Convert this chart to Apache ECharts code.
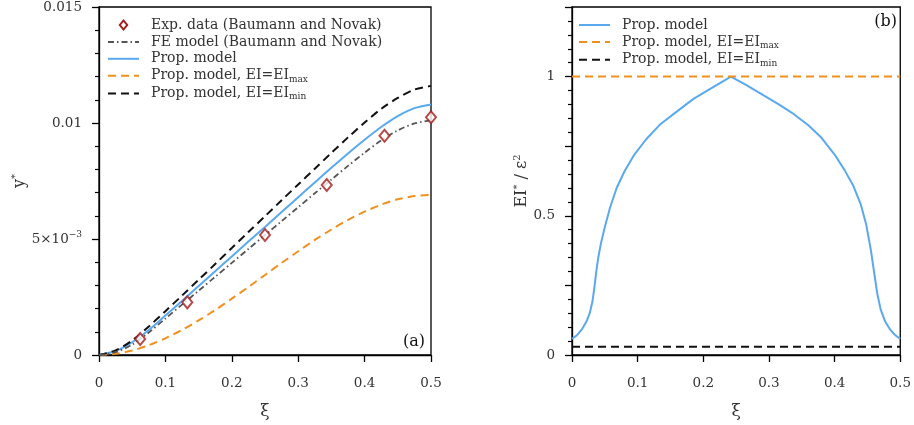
<!DOCTYPE html>
<html><head><meta charset="utf-8">
<script src="https://cdn.jsdelivr.net/npm/echarts@6/dist/echarts.min.js"></script>
<style>html,body{margin:0;padding:0;background:#fff}#c{width:914px;height:425px;background:#fff}</style>
</head><body><div id="c"></div>
<script>
// ---- Panel (a) data ----
const xiA = [0, 0.025, 0.05, 0.075, 0.1, 0.125, 0.15, 0.175, 0.2, 0.225, 0.25, 0.275, 0.3, 0.325, 0.35, 0.375, 0.4, 0.425, 0.45, 0.475, 0.5];
const feY = [0, 0.00012, 0.00045, 0.00097, 0.00157, 0.00217, 0.00277, 0.00337, 0.00397, 0.00457, 0.00517, 0.00577, 0.00637, 0.00697, 0.00756, 0.00815, 0.00872, 0.00925, 0.00968, 0.00998, 0.01012];
const propY = [0, 0.00017, 0.00055, 0.00108, 0.00170, 0.00233, 0.00297, 0.00361, 0.00425, 0.00489, 0.00552, 0.00616, 0.00680, 0.00744, 0.00807, 0.00869, 0.00928, 0.00983, 0.01030, 0.01064, 0.01080];
const propMaxY = [0, 0.00005, 0.00019, 0.00042, 0.00072, 0.00108, 0.00149, 0.00194, 0.00243, 0.00293, 0.00345, 0.00397, 0.00447, 0.00496, 0.00541, 0.00582, 0.00618, 0.00648, 0.00671, 0.00685, 0.00690];
const propMinY = [0, 0.00020, 0.00063, 0.00123, 0.00189, 0.00256, 0.00324, 0.00392, 0.00461, 0.00530, 0.00598, 0.00667, 0.00735, 0.00803, 0.00871, 0.00938, 0.01002, 0.01061, 0.01108, 0.01144, 0.01160];
const expXi = [0.062, 0.133, 0.25, 0.343, 0.43, 0.5];
const expY = [0.00069, 0.00227, 0.00517, 0.00733, 0.00945, 0.01025];
const yTicksA = [0, 0.005, 0.01, 0.015];
const yTickLabelsA = ['0', '5×10{sup|−3}', '0.01', '0.015'];

// ---- Panel (b) data ----
const xiB = [0, 0.008, 0.015, 0.022, 0.027, 0.031, 0.034, 0.037, 0.040, 0.044, 0.050, 0.058, 0.068, 0.080, 0.095, 0.113, 0.135, 0.160, 0.185, 0.215, 0.242,
             0.265, 0.290, 0.315, 0.335, 0.360, 0.380, 0.400, 0.415, 0.428, 0.440, 0.448, 0.455, 0.460, 0.465, 0.470, 0.477, 0.485, 0.492, 0.5];
const eiProp = [0.058, 0.072, 0.092, 0.120, 0.150, 0.190, 0.240, 0.300, 0.350, 0.400, 0.460, 0.530, 0.600, 0.660, 0.720, 0.775, 0.830, 0.875, 0.920, 0.962, 1.0,
                0.970, 0.935, 0.900, 0.870, 0.825, 0.780, 0.720, 0.665, 0.610, 0.540, 0.470, 0.380, 0.300, 0.220, 0.165, 0.120, 0.090, 0.072, 0.058];
const eiMaxLevel = [1.0, 1.0];
const eiMinLevel = [0.03, 0.03];
const xEnds = [0, 0.5];
const yTicksB = [0, 0.5, 1];

const FONT = 'DejaVu Serif';
const TXT = '#333';
const BLUE = '#5aa9ef', ORANGE = '#f0901e', BLACK = '#111', GRAY = '#555', RED = '#a51c1c';

const N_EXP = 'Exp. data (Baumann and Novak)';
const N_FE = 'FE model (Baumann and Novak)';
const N_P = 'Prop. model';
const N_MAX = 'Prop. model, EI=EImax';
const N_MIN = 'Prop. model, EI=EImin';

function legendFmt(name) {
  const m = name.match(/^(.*EI=EI)(max|min)$/);
  if (m) return '{g|}{t|' + m[1] + '}{s|' + m[2] + '}';
  return '{g|}{t|' + name + '}';
}
const legendRich = {
  g: { width: 7 },
  t: { fontFamily: FONT, fontSize: 14, color: TXT, lineHeight: 16 },
  s: { fontFamily: FONT, fontSize: 9, color: TXT, lineHeight: 16, verticalAlign: 'bottom', padding: [5, 0, 0, 0] }
};
function nearestLabel(v, ticks, labels) {
  for (let i = 0; i < ticks.length; i++) if (Math.abs(v - ticks[i]) < 1e-9) return labels[i];
  return String(v);
}
const pairs = (xs, ys) => xs.map((x, i) => [x, ys[i]]);
const hollowDiamond = 'path://M5,0L10,6L5,12L0,6Z M5,3L2.5,6L5,9L7.5,6Z';

function makeXAxis(gridIndex) {
  return {
    gridIndex: gridIndex, type: 'value', min: 0, max: 0.5, interval: 0.1,
    axisLine: { show: true, lineStyle: { color: '#000', width: 1.3 } },
    axisTick: { show: true, length: 7, lineStyle: { color: '#000', width: 1.3 } },
    axisLabel: { fontFamily: FONT, fontSize: 13.5, color: TXT, margin: 21 },
    splitLine: { show: false },
    name: 'ξ', nameLocation: 'middle', nameGap: 48,
    nameTextStyle: { fontFamily: FONT, fontSize: 17, color: TXT }
  };
}

const option = {
  animation: false,
  title: [
    { text: '(a)', right: 489, top: 334, textStyle: { fontFamily: FONT, fontSize: 16, fontWeight: 'normal', color: '#111' }, padding: 0 },
    { text: '(b)', right: 17, top: 14, textStyle: { fontFamily: FONT, fontSize: 16, fontWeight: 'normal', color: '#111' }, padding: 0 }
  ],
  grid: [
    { left: 99, right: 483, top: 7, bottom: 70, show: true, borderColor: '#000', borderWidth: 1.3 },
    { left: 572, right: 11, top: 7, bottom: 70, show: true, borderColor: '#000', borderWidth: 1.3 }
  ],
  xAxis: [makeXAxis(0), makeXAxis(1)],
  yAxis: [
    {
      gridIndex: 0, type: 'value', min: 0, max: 0.015, interval: 0.005,
      axisLine: { show: true, lineStyle: { color: '#000', width: 1.3 } },
      axisTick: { show: true, length: 7, lineStyle: { color: '#000', width: 1.3 } },
      minorTick: { show: true, splitNumber: 5, length: 4, lineStyle: { color: '#000', width: 1.2 } },
      axisLabel: {
        fontFamily: FONT, fontSize: 13.5, color: TXT, margin: 17,
        formatter: v => nearestLabel(v, yTicksA, yTickLabelsA),
        rich: { sup: { fontFamily: FONT, fontSize: 9, color: TXT, verticalAlign: 'top', padding: [0, 0, 8, 0] } }
      },
      splitLine: { show: false },
      name: 'y{sup|*}', nameLocation: 'middle', nameGap: 59,
      nameTextStyle: { fontFamily: FONT, fontSize: 16, color: TXT,
        rich: { sup: { fontFamily: FONT, fontSize: 10, color: TXT, verticalAlign: 'top', padding: [0, 0, 8, 0] } } }
    },
    {
      gridIndex: 1, type: 'value', min: 0, max: 1.25, interval: 0.25,
      axisLine: { show: true, lineStyle: { color: '#000', width: 1.3 } },
      axisTick: { show: true, length: 7, lineStyle: { color: '#000', width: 1.3 } },
      minorTick: { show: true, splitNumber: 5, length: 4, lineStyle: { color: '#000', width: 1.2 } },
      axisLabel: { show: true, customValues: yTicksB, fontFamily: FONT, fontSize: 13.5, color: TXT, margin: 17 },
      splitLine: { show: false },
      name: 'EI{sup|*} / ε{sup|2}', nameLocation: 'middle', nameGap: 39,
      nameTextStyle: { fontFamily: FONT, fontSize: 16, color: TXT,
        rich: { sup: { fontFamily: FONT, fontSize: 10, color: TXT, verticalAlign: 'top', padding: [0, 0, 8, 0] } } }
    }
  ],
  legend: [
    {
      orient: 'vertical', left: 102, top: 13, itemWidth: 31, itemHeight: 12, itemGap: 2.9,
      itemStyle: { opacity: 0 },
      data: [
        { name: N_EXP, icon: hollowDiamond, itemStyle: { opacity: 1, color: RED, borderWidth: 0 } },
        N_FE, N_P, N_MAX, N_MIN
      ],
      formatter: legendFmt, textStyle: { rich: legendRich }, selectedMode: false
    },
    {
      orient: 'vertical', left: 573, top: 13, itemWidth: 31, itemHeight: 12, itemGap: 2.9,
      itemStyle: { opacity: 0 },
      data: [N_P, N_MAX, N_MIN],
      formatter: legendFmt, textStyle: { rich: legendRich }, selectedMode: false
    }
  ],
  series: [
    { name: N_FE, type: 'line', xAxisIndex: 0, yAxisIndex: 0, data: pairs(xiA, feY), symbol: 'none', smooth: 0.3,
      lineStyle: { color: GRAY, width: 1.8, type: [6, 3, 1.5, 3] }, itemStyle: { color: GRAY }, z: 3 },
    { name: N_P, type: 'line', xAxisIndex: 0, yAxisIndex: 0, data: pairs(xiA, propY), symbol: 'none', smooth: 0.3,
      lineStyle: { color: BLUE, width: 2 }, itemStyle: { color: BLUE }, z: 2 },
    { name: N_MAX, type: 'line', xAxisIndex: 0, yAxisIndex: 0, data: pairs(xiA, propMaxY), symbol: 'none', smooth: 0.3,
      lineStyle: { color: ORANGE, width: 2, type: [8, 5] }, itemStyle: { color: ORANGE }, z: 2 },
    { name: N_MIN, type: 'line', xAxisIndex: 0, yAxisIndex: 0, data: pairs(xiA, propMinY), symbol: 'none', smooth: 0.3,
      lineStyle: { color: BLACK, width: 2, type: [8, 5] }, itemStyle: { color: BLACK }, z: 2 },
    { name: N_EXP, type: 'scatter', xAxisIndex: 0, yAxisIndex: 0, data: pairs(expXi, expY), symbol: 'emptyDiamond', symbolSize: [10, 12],
      itemStyle: { color: RED, borderColor: RED, borderWidth: 2 }, z: 5 },

    { name: N_P, type: 'line', xAxisIndex: 1, yAxisIndex: 1, data: pairs(xiB, eiProp), symbol: 'none',
      lineStyle: { color: BLUE, width: 2 }, itemStyle: { color: BLUE }, z: 2 },
    { name: N_MAX, type: 'line', xAxisIndex: 1, yAxisIndex: 1, data: pairs(xEnds, eiMaxLevel), symbol: 'none',
      lineStyle: { color: ORANGE, width: 2, type: [8, 5] }, itemStyle: { color: ORANGE }, z: 3 },
    { name: N_MIN, type: 'line', xAxisIndex: 1, yAxisIndex: 1, data: pairs(xEnds, eiMinLevel), symbol: 'none',
      lineStyle: { color: BLACK, width: 2, type: [8, 5] }, itemStyle: { color: BLACK }, z: 3 }
  ]
};
const chart = echarts.init(document.getElementById('c'), null, { renderer: 'canvas' });
chart.setOption(option);
</script>
</body></html>
